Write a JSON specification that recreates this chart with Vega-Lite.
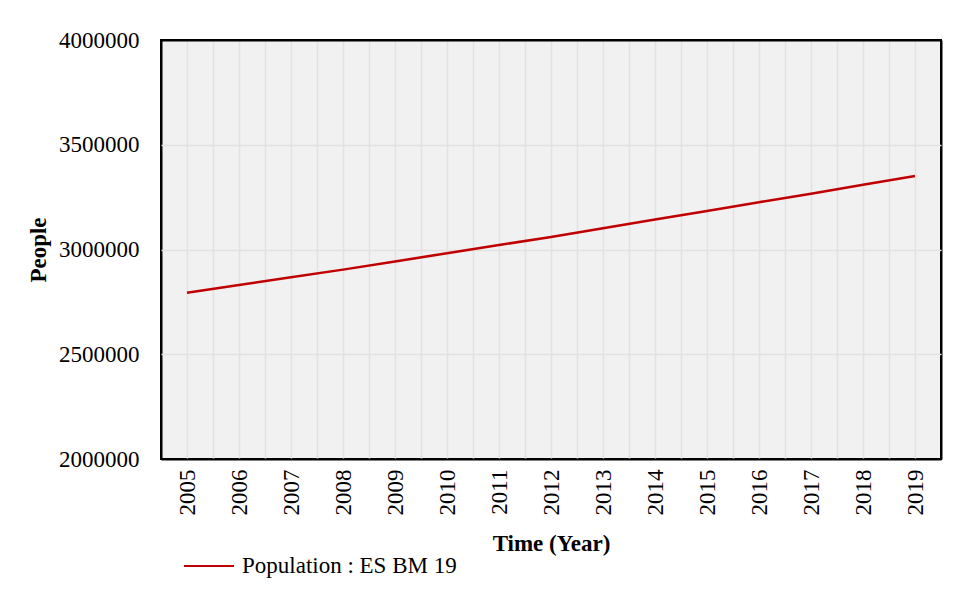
{
  "$schema": "https://vega.github.io/schema/vega-lite/v6.json",
  "width": 780,
  "height": 419,
  "autosize": {"type": "none"},
  "padding": {"left": 161, "top": 40, "right": 15, "bottom": 144},
  "background": "#ffffff",
  "config": {
    "font": "Liberation Serif",
    "view": {"fill": "#f1f1f1", "stroke": "#000000", "strokeWidth": 2},
    "axis": {"domain": false, "ticks": false, "gridColor": "#e2e2e2", "gridWidth": 1.5, "gridOpacity": 1, "labelFont": "Liberation Serif", "titleFont": "Liberation Serif", "labelColor": "#000000", "titleColor": "#000000", "labelFontSize": 23, "titleFontSize": 23}
  },
  "data": {
    "values": [
      {"year": 2005, "people": 2793800, "series": "Population : ES BM 19"},
      {"year": 2006, "people": 2830500, "series": "Population : ES BM 19"},
      {"year": 2007, "people": 2867300, "series": "Population : ES BM 19"},
      {"year": 2008, "people": 2904000, "series": "Population : ES BM 19"},
      {"year": 2009, "people": 2943200, "series": "Population : ES BM 19"},
      {"year": 2010, "people": 2982300, "series": "Population : ES BM 19"},
      {"year": 2011, "people": 3021500, "series": "Population : ES BM 19"},
      {"year": 2012, "people": 3059700, "series": "Population : ES BM 19"},
      {"year": 2013, "people": 3101200, "series": "Population : ES BM 19"},
      {"year": 2014, "people": 3142700, "series": "Population : ES BM 19"},
      {"year": 2015, "people": 3184200, "series": "Population : ES BM 19"},
      {"year": 2016, "people": 3225800, "series": "Population : ES BM 19"},
      {"year": 2017, "people": 3266300, "series": "Population : ES BM 19"},
      {"year": 2018, "people": 3308800, "series": "Population : ES BM 19"},
      {"year": 2019, "people": 3350400, "series": "Population : ES BM 19"}
    ]
  },
  "mark": {"type": "line", "strokeWidth": 2.5, "clip": true},
  "encoding": {
    "x": {
      "field": "year",
      "type": "quantitative",
      "scale": {"domain": [2004.5, 2019.5], "nice": false, "zero": false},
      "axis": {
        "title": "Time (Year)",
        "titleFontWeight": "bold",
        "titlePadding": 17,
        "values": [2004.5, 2005, 2005.5, 2006, 2006.5, 2007, 2007.5, 2008, 2008.5, 2009, 2009.5, 2010, 2010.5, 2011, 2011.5, 2012, 2012.5, 2013, 2013.5, 2014, 2014.5, 2015, 2015.5, 2016, 2016.5, 2017, 2017.5, 2018, 2018.5, 2019, 2019.5],
        "labelExpr": "datum.value % 1 === 0 ? toString(datum.value) : ''",
        "labelAngle": -90,
        "labelAlign": "right",
        "labelBaseline": "middle",
        "labelPadding": 10,
        "labelOverlap": false,
        "labelFlush": false,
        "gridColor": {"condition": {"test": "datum.value === 2004.5 || datum.value === 2019.5", "value": "#000000"}, "value": "#e2e2e2"},
        "gridWidth": {"condition": {"test": "datum.value === 2004.5 || datum.value === 2019.5", "value": 2}, "value": 1.5}
      }
    },
    "y": {
      "field": "people",
      "type": "quantitative",
      "scale": {"domain": [2000000, 4000000], "nice": false, "zero": false},
      "axis": {
        "title": "People",
        "titleFontWeight": "bold",
        "titlePadding": 8,
        "values": [2000000, 2500000, 3000000, 3500000, 4000000],
        "format": "d",
        "labelPadding": 22,
        "labelFlush": false,
        "gridColor": {"condition": {"test": "datum.value === 2000000 || datum.value === 4000000", "value": "#000000"}, "value": "#e2e2e2"},
        "gridWidth": {"condition": {"test": "datum.value === 2000000 || datum.value === 4000000", "value": 2}, "value": 1.5}
      }
    },
    "color": {
      "field": "series",
      "type": "nominal",
      "scale": {"range": ["#C00000"]},
      "legend": {
        "title": null,
        "orient": "none",
        "legendX": 22,
        "legendY": 500,
        "symbolType": "stroke",
        "symbolSize": 2500,
        "symbolStrokeWidth": 2,
        "labelFontSize": 23,
        "labelFont": "Liberation Serif",
        "labelColor": "#000000",
        "labelOffset": 7,
        "labelLimit": 0
      }
    }
  }
}
